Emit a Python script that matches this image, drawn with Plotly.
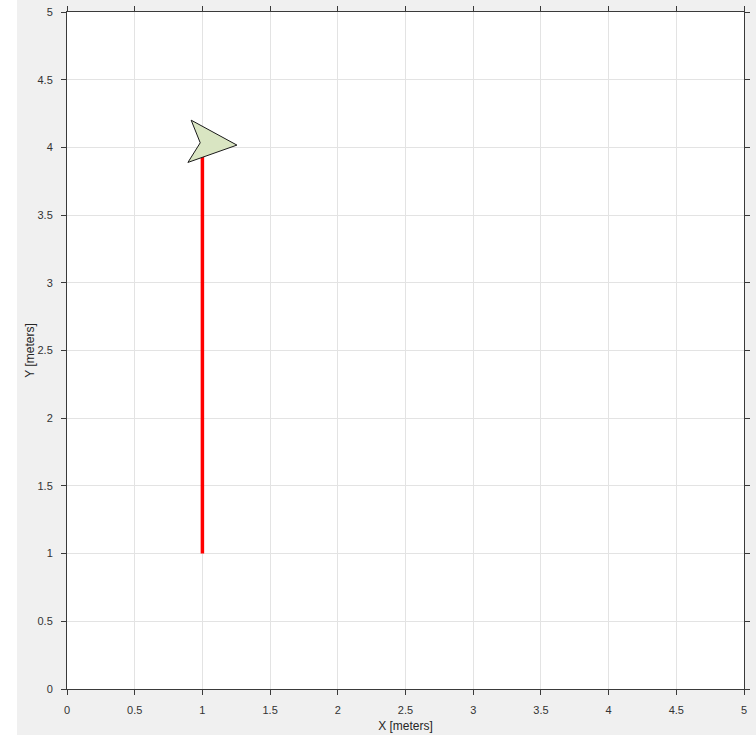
import plotly.graph_objects as go

# Path travelled (meters)
path_x = [1.0, 1.0]
path_y = [1.0, 4.0]

# Robot marker polygon vertices (meters)
robot_x = [1.255, 0.917, 0.984, 0.893, 1.255]
robot_y = [4.017, 4.201, 4.034, 3.889, 4.017]

tick_vals = [0, 0.5, 1, 1.5, 2, 2.5, 3, 3.5, 4, 4.5, 5]
tick_text = ["0", "0.5", "1", "1.5", "2", "2.5", "3", "3.5", "4", "4.5", "5"]

W, H = 756, 735
ML, MR, MT, MB = 67, 12, 12, 46
PW = W - ML - MR
PH = H - MT - MB

fig = go.Figure()
fig.add_trace(go.Scatter(x=path_x, y=path_y, mode="lines",
                         line=dict(color="#ff0000", width=3.5),
                         hoverinfo="skip", showlegend=False))
fig.add_trace(go.Scatter(x=robot_x, y=robot_y, mode="lines", fill="toself",
                         fillcolor="#d9e5c2",
                         line=dict(color="#1a1a1a", width=1),
                         hoverinfo="skip", showlegend=False))

axis_common = dict(
    range=[0, 5], tickvals=tick_vals, ticktext=tick_text,
    showgrid=True, gridcolor="#e3e3e3", gridwidth=1,
    zeroline=False, showline=True, linecolor="#3a3a3a", linewidth=1,
    mirror="ticks", ticks="outside", ticklen=5, tickcolor="#3a3a3a",
    tickfont=dict(family="Liberation Sans, Arial, sans-serif", size=11, color="#333333"),
    fixedrange=True, automargin=False,
)

fig.update_layout(
    width=W, height=H,
    margin=dict(l=ML, r=MR, t=MT, b=MB, pad=0, autoexpand=False),
    paper_bgcolor="#f0f0f0", plot_bgcolor="#ffffff",
    xaxis=dict(axis_common, ticklabelstandoff=6,
               title=dict(text="X [meters]", standoff=6,
                          font=dict(family="Liberation Sans, Arial, sans-serif", size=12, color="#262626"))),
    yaxis=dict(axis_common, ticklabelstandoff=6,
               title=dict(text="Y [meters]", standoff=0,
                          font=dict(family="Liberation Sans, Arial, sans-serif", size=12, color="#262626"))),
    shapes=[dict(type="rect", xref="paper", yref="paper", layer="below",
                 x0=-ML / PW, x1=-(ML - 17) / PW, y0=-MB / PH - 0.01, y1=1 + MT / PH + 0.01,
                 fillcolor="#ffffff", line=dict(width=0))],
)

fig.write_html("out.html")
